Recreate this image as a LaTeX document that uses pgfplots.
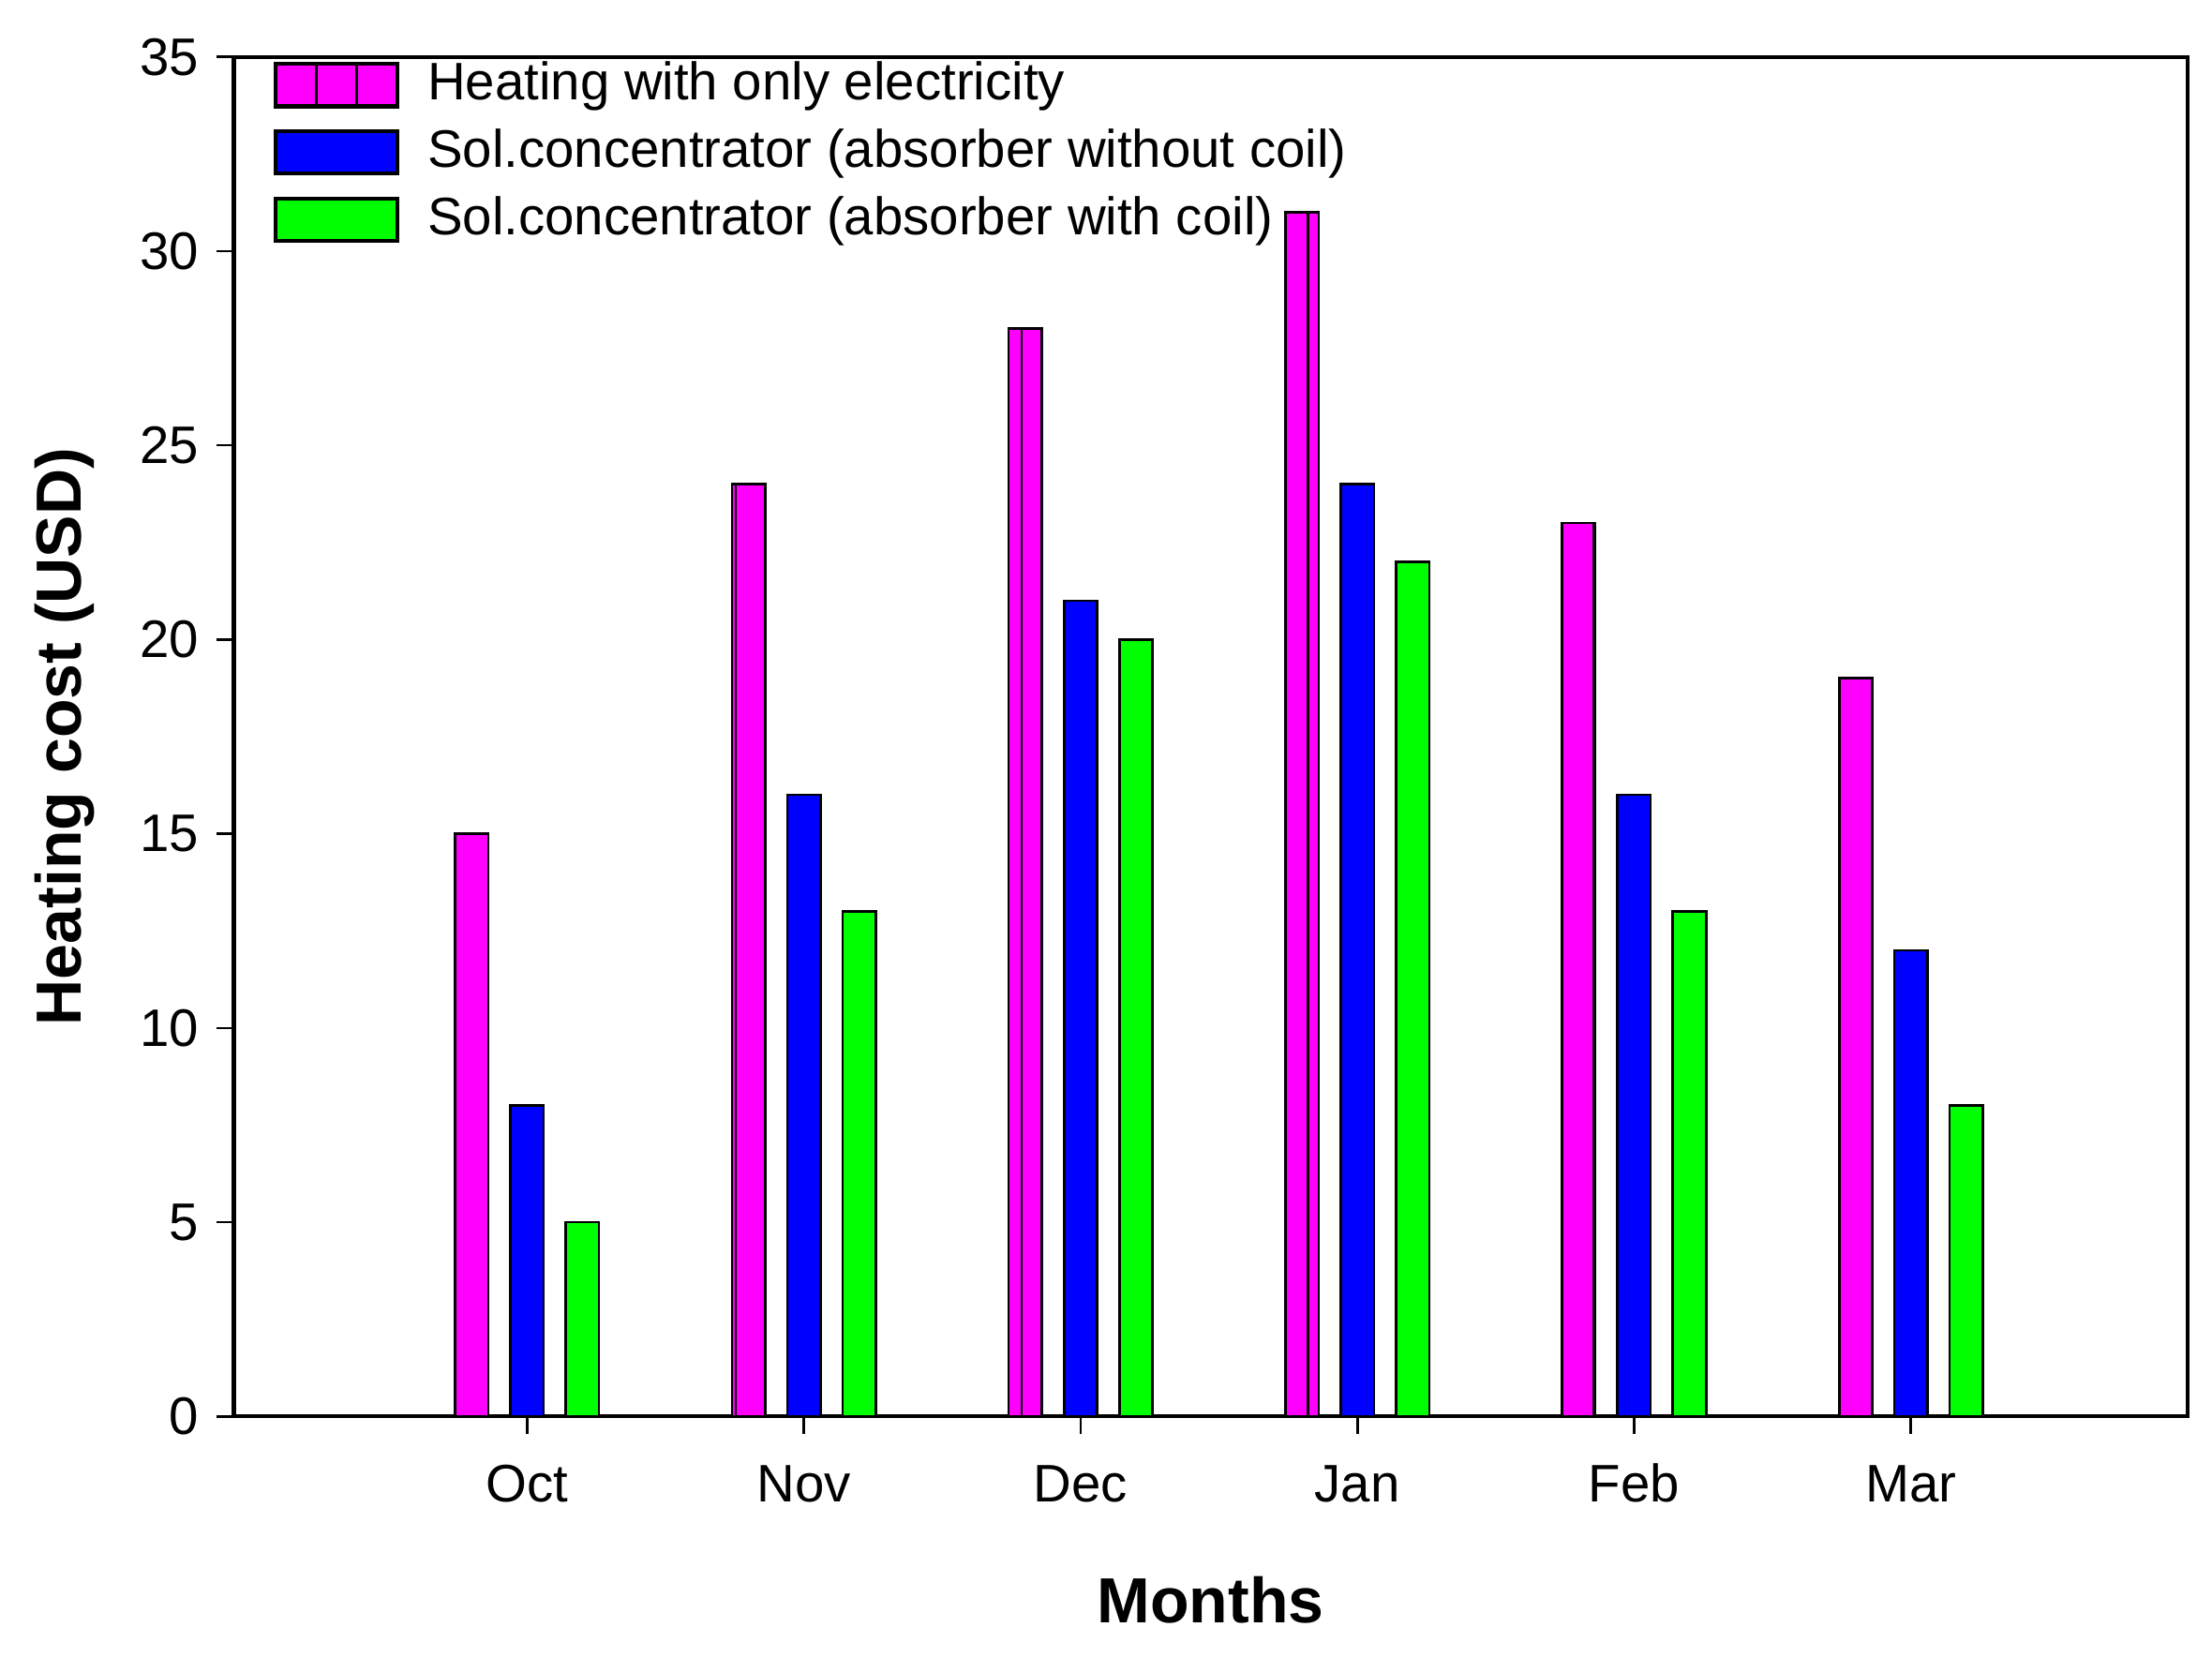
\documentclass[border=0pt]{standalone}
\usepackage{fontspec}
\setmainfont{Liberation Sans}
\usepackage{pgfplots}
\usepackage{pgfplotstable}
\pgfplotsset{compat=1.18}
\usetikzlibrary{patterns.meta}

\definecolor{cMag}{RGB}{255,0,255}
\definecolor{cBlue}{RGB}{0,0,255}
\definecolor{cGreen}{RGB}{0,255,0}

% monthly heating cost (USD)
\pgfplotstableread{
x elec nocoil coil
0 15 8  5
1 24 16 13
2 28 21 20
3 31 24 22
4 23 16 13
5 19 12 8
}\costdata

\begin{document}
\begin{tikzpicture}
\useasboundingbox (-46.9pt,-48.1pt) rectangle (396.9pt,284.2pt);
\begin{axis}[
  scale only axis,
  width=392pt, height=272.8pt,
  xmin=-1.06, xmax=6.0,
  ymin=0, ymax=35,
  ytick={0,5,...,35},
  xtick={0,...,5},
  xticklabels={Oct,Nov,Dec,Jan,Feb,Mar},
  tick align=outside,
  tick pos=left,
  major tick length=3.5pt,
  axis line style={line width=0.8pt},
  every tick/.style={black, line width=0.5pt},
  tick label style={font=\fontsize{10.6}{12}\selectfont, black},
  /pgf/number format/assume math mode=true,
  xticklabel style={yshift=-2.2pt, text height=8pt, text depth=2pt},
  xlabel={Months},
  ylabel={Heating cost (USD)},
  label style={font=\bfseries\fontsize{12.8}{15}\selectfont},
  xlabel style={at={(rel axis cs:0.5,0)}, yshift=-36.8pt, anchor=center},
  ylabel style={at={(rel axis cs:0,0.5)}, yshift=34pt, anchor=center},
  legend cell align=left,
  legend style={at={(rel axis cs:0.0122,1.0055)}, anchor=north west,
    draw=none, fill=none, font=\fontsize{10.6}{12}\selectfont,
    nodes={inner sep=0pt, text height=8pt, text depth=2pt},
    row sep=3.5pt, column sep=5.6pt},
]
\addplot[ybar, bar width=0.12, bar shift=-0.2, fill=cMag, draw=black, line width=0.5pt,
  legend image code/.code={
    \draw[fill=cMag, draw=black, line width=0.8pt] (0pt,-4.25pt) rectangle (24.5pt,4.25pt);
    \draw[line width=0.6pt] (8.17pt,-4.25pt) -- (8.17pt,4.25pt);
    \draw[line width=0.6pt] (16.33pt,-4.25pt) -- (16.33pt,4.25pt);}]
  table[x=x, y=elec] {\costdata};
\addlegendentry{Heating with only electricity}
% vertical-line hatching over the electricity bars
\addplot[ybar, bar width=0.12, bar shift=-0.2, draw=black, line width=0.5pt, forget plot,
  pattern={Lines[angle=90,distance=8.2pt,line width=0.5pt]}, pattern color=black]
  table[x=x, y=elec] {\costdata};
\addplot[ybar, bar width=0.12, bar shift=0, fill=cBlue, draw=black, line width=0.5pt,
  legend image code/.code={
    \draw[fill=cBlue, draw=black, line width=0.8pt] (0pt,-4.25pt) rectangle (24.5pt,4.25pt);}]
  table[x=x, y=nocoil] {\costdata};
\addlegendentry{Sol.concentrator (absorber without coil)}
\addplot[ybar, bar width=0.12, bar shift=0.2, fill=cGreen, draw=black, line width=0.5pt,
  legend image code/.code={
    \draw[fill=cGreen, draw=black, line width=0.8pt] (0pt,-4.25pt) rectangle (24.5pt,4.25pt);}]
  table[x=x, y=coil] {\costdata};
\addlegendentry{Sol.concentrator (absorber with coil)}
\end{axis}
\end{tikzpicture}
\end{document}
